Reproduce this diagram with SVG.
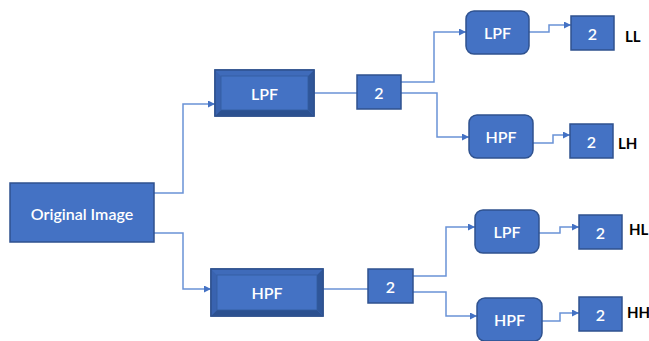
<svg xmlns="http://www.w3.org/2000/svg" width="649" height="341" viewBox="0 0 649 341">
<defs>
<style>
.box{fill:#4472C4;stroke:#2F528F;stroke-width:1.5}
.inner{fill:#4472C4;stroke:#345D9F;stroke-width:0.8}
.bt{fill:#3F6BBA}
.bl{fill:#3963B0}
.br{fill:#2F5699}
.bb{fill:#2C5190}
.lbl{font-family:Lato,"Open Sans","Liberation Sans",sans-serif;font-size:16px;font-weight:600;fill:#FFFFFF;text-anchor:middle;dominant-baseline:central}
.out{font-family:Lato,"Open Sans","Liberation Sans",sans-serif;font-size:15px;font-weight:bold;fill:#000000;dominant-baseline:central}
.con{fill:none;stroke:#6A92D6;stroke-width:1.5}
</style>
<marker id="arr" viewBox="0 0 10 10" refX="10" refY="5" markerWidth="7" markerHeight="7" markerUnits="userSpaceOnUse" orient="auto">
<path d="M0,0 L10,5 L0,10 Z" fill="#4472C4"/>
</marker>
</defs>
<g id="connectors">
<path class="con" marker-end="url(#arr)" d="M154,193 H183 V104 H215"/>
<path class="con" marker-end="url(#arr)" d="M154,233 H183 V289 H211"/>
<path class="con" d="M314,93 H357"/>
<path class="con" d="M323,289 H368"/>
<path class="con" marker-end="url(#arr)" d="M401,82 H434 V32 H466"/>
<path class="con" marker-end="url(#arr)" d="M401,93 H437 V137 H469"/>
<path class="con" marker-end="url(#arr)" d="M413,276 H446 V227 H475"/>
<path class="con" marker-end="url(#arr)" d="M413,292 H446 V316 H477"/>
<path class="con" marker-end="url(#arr)" d="M529,32 H549 V25 H571"/>
<path class="con" marker-end="url(#arr)" d="M533,143 H553 V135 H570"/>
<path class="con" marker-end="url(#arr)" d="M539,233 H560 V227 H579"/>
<path class="con" marker-end="url(#arr)" d="M542,321 H560 V313 H579"/>
</g>
<g id="original">
<rect class="box" x="10" y="183" width="144" height="59"/>
<text class="lbl" x="82" y="213">Original Image</text>
</g>
<g id="lpf1">
<rect class="box" x="215" y="70" width="99" height="46"/>
<polygon class="bt" points="215,70 314,70 308,76 221,76"/>
<polygon class="bl" points="215,70 221,76 221,110 215,116"/>
<polygon class="br" points="314,70 314,116 308,110 308,76"/>
<polygon class="bb" points="215,116 221,110 308,110 314,116"/>
<rect class="inner" x="221" y="76" width="87" height="34"/>
<rect x="215" y="70" width="99" height="46" fill="none" stroke="#2F528F" stroke-width="1.5"/>
<text class="lbl" x="264.5" y="93">LPF</text>
</g>
<g id="hpf1">
<rect class="box" x="211" y="269" width="112" height="47"/>
<polygon class="bt" points="211,269 323,269 317,275 217,275"/>
<polygon class="bl" points="211,269 217,275 217,310 211,316"/>
<polygon class="br" points="323,269 323,316 317,310 317,275"/>
<polygon class="bb" points="211,316 217,310 317,310 323,316"/>
<rect class="inner" x="217" y="275" width="100" height="35"/>
<rect x="211" y="269" width="112" height="47" fill="none" stroke="#2F528F" stroke-width="1.5"/>
<text class="lbl" x="267" y="292.5">HPF</text>
</g>
<g id="down1">
<rect class="box" x="357" y="75" width="44" height="34"/>
<text class="lbl" x="379" y="92">2</text>
</g>
<g id="down2">
<rect class="box" x="368" y="269" width="45" height="34"/>
<text class="lbl" x="390.5" y="286">2</text>
</g>
<g id="lpf2">
<rect class="box" x="466" y="11" width="63" height="43" rx="8"/>
<text class="lbl" x="497.5" y="32.5">LPF</text>
</g>
<g id="hpf2">
<rect class="box" x="469" y="115" width="64" height="43" rx="8"/>
<text class="lbl" x="501" y="136.5">HPF</text>
</g>
<g id="lpf3">
<rect class="box" x="475" y="210" width="64" height="43" rx="8"/>
<text class="lbl" x="507" y="231.5">LPF</text>
</g>
<g id="hpf3">
<rect class="box" x="477" y="298" width="65" height="43" rx="8"/>
<text class="lbl" x="509.5" y="319.5">HPF</text>
</g>
<g id="ll">
<rect class="box" x="571" y="16" width="43" height="34"/>
<text class="lbl" x="592.5" y="33">2</text>
<text class="out" x="625" y="36">LL</text>
</g>
<g id="lh">
<rect class="box" x="570" y="124" width="43" height="34"/>
<text class="lbl" x="591.5" y="141">2</text>
<text class="out" x="618" y="143">LH</text>
</g>
<g id="hl">
<rect class="box" x="579" y="215" width="43" height="34"/>
<text class="lbl" x="600.5" y="232">2</text>
<text class="out" x="629" y="229">HL</text>
</g>
<g id="hh">
<rect class="box" x="579" y="297" width="43" height="34"/>
<text class="lbl" x="600.5" y="314">2</text>
<text class="out" x="627" y="312">HH</text>
</g>
</svg>
